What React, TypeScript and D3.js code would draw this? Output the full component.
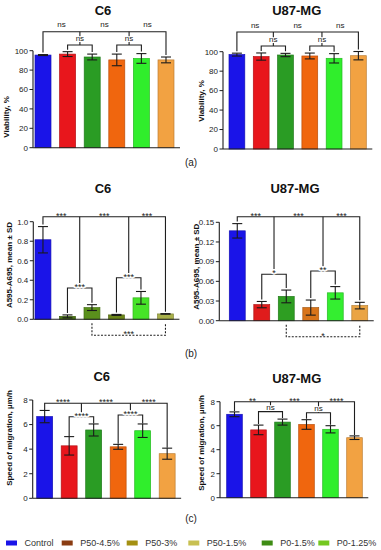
import React from "react";
import * as d3 from "d3";

// ---------- DATA ----------
const groups = ["Control", "P50-4.5%", "P50-3%", "P50-1.5%", "P0-1.5%", "P0-1.25%"];

const viabC6 = [95.5, 96.5, 93.5, 90.5, 92, 90.5];
const viabC6Err = [0.5, 2.5, 3, 6, 5, 3];
const viabU87 = [97, 95, 96.6, 95.6, 93.2, 95.9];
const viabU87Err = [1.5, 3.7, 1.7, 3, 4.8, 4.3];

const absC6 = [0.815, 0.03, 0.12, 0.045, 0.22, 0.055];
const absC6Err = [0.135, 0.015, 0.03, 0.005, 0.065, 0.003];
const absU87 = [0.137, 0.0245, 0.037, 0.02, 0.0425, 0.023];
const absU87Err = [0.011, 0.0048, 0.0097, 0.0115, 0.0095, 0.005];

const migC6 = [6.65, 4.27, 5.56, 4.19, 5.5, 3.63];
const migC6Err = [0.5, 0.75, 0.49, 0.2, 0.55, 0.45];
const migU87 = [6.95, 5.65, 6.3, 6.1, 5.7, 5.0];
const migU87Err = [0.2, 0.4, 0.25, 0.4, 0.3, 0.15];

const viabTicks = [0, 20, 40, 60, 80, 100];
const absC6Ticks = [0, 0.2, 0.4, 0.6, 0.8, 1.0];
const absU87Ticks = [0, 0.03, 0.06, 0.09, 0.12, 0.15];
const migTicks = [0, 2, 4, 6, 8];

const sigViabTop = ["ns", "ns", "ns"];
const sigViabInner = ["ns", "ns"];
const sigAbsC6Top = ["***", "***", "***"];
const sigAbsC6Inner = ["***", "***"];
const sigAbsC6Dashed = "***";
const sigAbsU87Top = ["***", "***", "***"];
const sigAbsU87Inner = ["*", "**"];
const sigAbsU87Dashed = "*";
const sigMigC6Top = ["****", "****", "****"];
const sigMigC6Inner = ["****", "****"];
const sigMigU87Top = ["**", "***", "****"];
const sigMigU87Inner = ["ns", "ns"];

// ---------- STYLE ----------
const barColors = ["#1a14e8", "#e8161c", "#2a9c24", "#f0660e", "#30ee2c", "#f2a242"];
const barColorsAbsC6 = ["#1a14e8", "#4c7616", "#5a901c", "#6c861a", "#46e428", "#a8b04a"];
const barColorsAbsU87 = ["#1a14e8", "#e01c1c", "#2e9e22", "#d8741a", "#34ee30", "#eaa444"];
const legendColors = ["#1a14e8", "#8a3c12", "#a49012", "#c8c052", "#3e8c14", "#74c820"];
const legendX = [6, 61.7, 126.7, 188.3, 261.7, 318.3];

const FONT = "'Liberation Sans', Arial, Helvetica, sans-serif";

type Cfg = {
  title: string; titleX: number; titleY: number;
  ylabel: string; ylabelX: number; ylabelY: number;
  axisX: number; barStart: number; step: number;
  yTop: number; yBottom: number; yMax: number;
  ticks: number[]; fmt: (v: number) => string;
  vals: number[]; errs: number[]; colors: string[];
  topLevel: number; innerLevels: number[];
  topLabels: string[]; innerLabels: string[];
  dashed?: string; gap: number; lift: number;
};

function Panel({ cfg }: { cfg: Cfg }) {
  const y = d3.scaleLinear().domain([0, cfg.yMax]).range([cfg.yBottom, cfg.yTop]);
  const x = d3
    .scaleBand()
    .domain(groups)
    .range([cfg.barStart, cfg.barStart + 5.65 * cfg.step])
    .paddingInner(0.35)
    .paddingOuter(0);
  const bw = x.bandwidth();
  const cx = (i: number) => (x(groups[i]) as number) + bw / 2;
  const legEnd = (i: number) => y(cfg.vals[i] + cfg.errs[i]) - cfg.gap;
  const top = y(cfg.topLevel);
  const c1 = (cx(1) + cx(2)) / 2;
  const c2 = (cx(3) + cx(4)) / 2;
  const in1 = y(cfg.innerLevels[0]);
  const in2 = y(cfg.innerLevels[1]);
  const y0 = y(0);
  const xEnd = (x(groups[5]) as number) + bw + 6;
  const isStar = (s: string) => s.indexOf("*") >= 0;
  const labY = (lineY: number, s: string) => (isStar(s) ? lineY + 1.8 : lineY - cfg.lift);
  const labSize = (s: string) => (isStar(s) ? 9 : 8);
  const lineCol = "#1e1e1e";

  const topXs = [(cx(0) + c1) / 2, (c1 + c2) / 2, (c2 + cx(5)) / 2];
  const innerXs = [c1, c2];
  const innerYs = [in1, in2];

  return (
    <g fontFamily={FONT}>
      <text x={cfg.titleX} y={cfg.titleY} textAnchor="middle" fontSize={13} fontWeight="bold" fill="#111">
        {cfg.title}
      </text>
      <text
        transform={`translate(${cfg.ylabelX},${cfg.ylabelY}) rotate(-90)`}
        textAnchor="middle"
        dominantBaseline="middle"
        fontSize={8}
        fontWeight="bold"
        fill="#111"
      >
        {cfg.ylabel}
      </text>
      {/* bars */}
      {cfg.vals.map((v, i) => (
        <rect
          key={"b" + i}
          x={x(groups[i])}
          y={y(v)}
          width={bw}
          height={y0 - y(v)}
          fill={cfg.colors[i]}
          stroke={d3.color(cfg.colors[i])!.darker(0.7).formatHex()}
          strokeWidth={0.7}
        />
      ))}
      {/* error bars */}
      {cfg.vals.map((v, i) => {
        const hi = y(v + cfg.errs[i]);
        const lo = y(Math.max(0, v - cfg.errs[i]));
        const c = cx(i);
        return (
          <g key={"e" + i} stroke="#1a1a1a" strokeWidth={1.1}>
            <line x1={c} x2={c} y1={hi} y2={lo} />
            <line x1={c - 5} x2={c + 5} y1={hi} y2={hi} />
            <line x1={c - 5} x2={c + 5} y1={lo} y2={lo} />
          </g>
        );
      })}
      {/* axes */}
      <line x1={cfg.axisX} x2={cfg.axisX} y1={y0} y2={y(cfg.ticks[cfg.ticks.length - 1])} stroke={lineCol} strokeWidth={1.1} />
      <line x1={cfg.axisX} x2={xEnd} y1={y0} y2={y0} stroke={lineCol} strokeWidth={1.1} />
      {cfg.ticks.map((t, i) => (
        <g key={"t" + i}>
          <line x1={cfg.axisX - 3.5} x2={cfg.axisX} y1={y(t)} y2={y(t)} stroke={lineCol} strokeWidth={1} />
          <text x={cfg.axisX - 5} y={y(t)} dy="0.35em" textAnchor="end" fontSize={8} fill="#222">
            {cfg.fmt(t)}
          </text>
        </g>
      ))}
      {/* brackets */}
      <g fill="none" stroke={lineCol} strokeWidth={1.1}>
        <path d={`M${cx(0)},${legEnd(0)}V${top}H${cx(5)}V${legEnd(5)}`} />
        <path d={`M${c1},${top}V${in1}`} />
        <path d={`M${c2},${top}V${in2}`} />
        <path d={`M${cx(1)},${legEnd(1)}V${in1}H${cx(2)}V${legEnd(2)}`} />
        <path d={`M${cx(3)},${legEnd(3)}V${in2}H${cx(4)}V${legEnd(4)}`} />
        {cfg.dashed && (
          <path d={`M${cx(2)},${y0 + 4}V${y0 + 16}H${cx(5)}V${y0 + 4}`} strokeDasharray="2,1.5" />
        )}
      </g>
      {cfg.topLabels.map((s, i) => (
        <text key={"tl" + i} x={topXs[i]} y={labY(top, s)} textAnchor="middle" fontSize={labSize(s)} fill="#222">
          {s}
        </text>
      ))}
      {cfg.innerLabels.map((s, i) => (
        <text
          key={"il" + i}
          x={innerXs[i]}
          y={labY(innerYs[i], s)}
          textAnchor="middle"
          fontSize={labSize(s)}
          fill="#222"
          stroke="#fff"
          strokeWidth={2.2}
          paintOrder="stroke"
        >
          {s}
        </text>
      ))}
      {cfg.dashed && (
        <text x={(cx(2) + cx(5)) / 2} y={y0 + 16 + 1.8} textAnchor="middle" fontSize={9} fill="#222">
          {cfg.dashed}
        </text>
      )}
    </g>
  );
}

const fInt = d3.format("d");
const f1 = d3.format(".1f");
const f2 = d3.format(".2f");

const panels: Cfg[] = [
  {
    title: "C6", titleX: 103, titleY: 14.6, ylabel: "Viability, %", ylabelX: 7, ylabelY: 117,
    axisX: 33, barStart: 35, step: 24.6, yTop: 50.7, yBottom: 147.7, yMax: 100,
    ticks: viabTicks, fmt: fInt, vals: viabC6, errs: viabC6Err, colors: barColors,
    topLevel: 119.6, innerLevels: [105.9, 105.9], topLabels: sigViabTop, innerLabels: sigViabInner,
    gap: 2, lift: 4.2,
  },
  {
    title: "U87-MG", titleX: 296.7, titleY: 14.6, ylabel: "Viability, %", ylabelX: 201.7, ylabelY: 101,
    axisX: 223, barStart: 229, step: 24.3, yTop: 51.7, yBottom: 149, yMax: 100,
    ticks: viabTicks, fmt: fInt, vals: viabU87, errs: viabU87Err, colors: barColors,
    topLevel: 120.2, innerLevels: [105.9, 105.9], topLabels: sigViabTop, innerLabels: sigViabInner,
    gap: 2, lift: 4.2,
  },
  {
    title: "C6", titleX: 103, titleY: 192.8, ylabel: "A595-A695, mean ± SD", ylabelX: 10, ylabelY: 265,
    axisX: 33.3, barStart: 35, step: 24.5, yTop: 221.7, yBottom: 319.3, yMax: 1.0,
    ticks: absC6Ticks, fmt: f1, vals: absC6, errs: absC6Err, colors: barColorsAbsC6,
    topLevel: 1.051, innerLevels: [0.321, 0.426], topLabels: sigAbsC6Top, innerLabels: sigAbsC6Inner,
    dashed: sigAbsC6Dashed, gap: 2, lift: 4,
  },
  {
    title: "U87-MG", titleX: 295, titleY: 192.8, ylabel: "A595-A695, mean ± SD", ylabelX: 196.7, ylabelY: 266.7,
    axisX: 219.3, barStart: 229.3, step: 24.5, yTop: 222.3, yBottom: 320.7, yMax: 0.15,
    ticks: absU87Ticks, fmt: f2, vals: absU87, errs: absU87Err, colors: barColorsAbsU87,
    topLevel: 0.1585, innerLevels: [0.0707, 0.0758], topLabels: sigAbsU87Top, innerLabels: sigAbsU87Inner,
    dashed: sigAbsU87Dashed, gap: 2, lift: 4,
  },
  {
    title: "C6", titleX: 101.7, titleY: 380.6, ylabel: "Speed of migration, µm/h", ylabelX: 10, ylabelY: 438,
    axisX: 32.7, barStart: 36.7, step: 24.5, yTop: 400, yBottom: 498.3, yMax: 8,
    ticks: migTicks, fmt: fInt, vals: migC6, errs: migC6Err, colors: barColors,
    topLevel: 7.73, innerLevels: [6.64, 6.78], topLabels: sigMigC6Top, innerLabels: sigMigC6Inner,
    gap: 0.5, lift: 3,
  },
  {
    title: "U87-MG", titleX: 296.7, titleY: 382.6, ylabel: "Speed of migration, µm/h", ylabelX: 201.7, ylabelY: 443,
    axisX: 220, barStart: 226.7, step: 24, yTop: 401.7, yBottom: 497.7, yMax: 8,
    ticks: migTicks, fmt: fInt, vals: migU87, errs: migU87Err, colors: barColors,
    topLevel: 8.0, innerLevels: [7.17, 7.08], topLabels: sigMigU87Top, innerLabels: sigMigU87Inner,
    gap: 1, lift: 2,
  },
];

const panelTags = ["(a)", "(b)", "(c)"];
const panelTagY = [165.5, 356.5, 522];

export default function App() {
  return (
    <svg
      width={381}
      height={550}
      style={{ position: "absolute", left: 0, top: 0, background: "#fff" }}
      fontFamily={FONT}
    >
      <rect x={0} y={0} width={381} height={550} fill="#fff" />
      {panels.map((p, i) => (
        <Panel key={i} cfg={p} />
      ))}
      {panelTags.map((t, i) => (
        <text key={t} x={191} y={panelTagY[i]} textAnchor="middle" fontSize={10} fill="#222">
          {t}
        </text>
      ))}
      {groups.map((g, i) => (
        <g key={g}>
          <rect x={legendX[i]} y={540.5} width={11} height={5} fill={legendColors[i]} />
          <text x={legendX[i] + 18.5} y={543} dy="0.35em" fontSize={9} fill="#333">
            {g}
          </text>
        </g>
      ))}
    </svg>
  );
}
